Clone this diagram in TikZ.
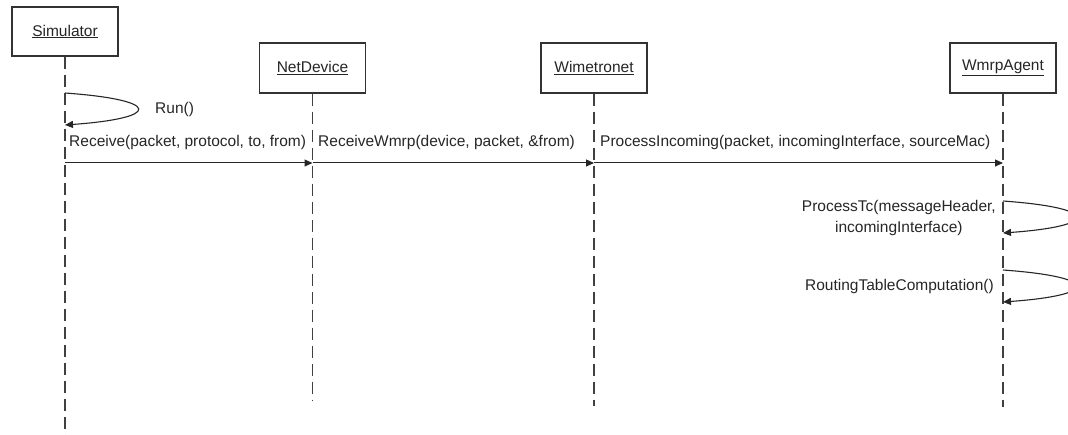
\documentclass[tikz,border=0pt]{standalone}
\usepackage{fontspec}
\setmainfont{Liberation Sans}
\usetikzlibrary{arrows.meta}
\begin{document}
\begin{tikzpicture}[x=1pt,y=-1pt,
  obj/.style={draw=black!80, line width=1.3pt, minimum width=106pt, minimum height=50pt,
              inner sep=0pt, font=\fontsize{15.5}{18}\selectfont, text=black!85, fill=white},
  life/.style={draw=black!75, line width=1.2pt, dash pattern=on 12pt off 6pt},
  msg/.style={draw=black!85, line width=1pt, -{Triangle[length=8pt,width=7pt]}},
  selfmsg/.style={msg, line width=1.1pt},
  lbl/.style={font=\fontsize{15.5}{21}\selectfont, inner sep=0pt, text=black!85},
]
\clip (0,0) rectangle (1068,435);

% objects
\node[obj, minimum height=49pt] (sim) at (65,31.5) {\underline{Simulator}};
\node[obj] (net) at (312.5,68) {\underline{NetDevice}};
\node[obj] (wim) at (594,68) {\underline{Wimetronet}};
\node[obj] (agt) at (1003,68) {\underline{WmrpAgent}};

% lifelines
\coordinate (simEnd) at (sim |- 0,438);
\coordinate (netEnd) at (net |- 0,400);
\coordinate (wimEnd) at (wim |- 0,406);
\coordinate (agtEnd) at (agt |- 0,407);
\draw[life] (sim.south) -- (simEnd);
\draw[life] (net.south) -- (netEnd);
\draw[life] (wim.south) -- (wimEnd);
\draw[life] (agt.south) -- (agtEnd);

% self call on the simulator
\coordinate (runA) at (sim |- 0,93);
\coordinate (runB) at (sim |- 0,125);
\draw[selfmsg] (runA) .. controls +(97,7) and +(97,-7) .. (runB);
\node[lbl, anchor=west] (runL) at (155,109) {Run()};

% forwarded receive calls
\coordinate (pSim) at (sim |- 0,163);
\coordinate (pNet) at (net |- 0,163);
\coordinate (pWim) at (wim |- 0,163);
\coordinate (pAgt) at (agt |- 0,163);
\draw[msg] (pSim) -- (pNet);
\draw[msg] (pNet) -- (pWim);
\draw[msg] (pWim) -- (pAgt);
\node[lbl, anchor=west] (l1) at (69,142) {Receive(packet, protocol, to, from)};
\node[lbl, anchor=west] (l2) at (318,142) {ReceiveWmrp(device, packet, \&from)};
\node[lbl, anchor=west] (l3) at (600,142) {ProcessIncoming(packet, incomingInterface, sourceMac)};

% self calls on the agent
\coordinate (tcA) at (agt |- 0,201);
\coordinate (tcB) at (agt |- 0,233);
\draw[selfmsg] (tcA) .. controls +(97,7) and +(97,-7) .. (tcB);
\node[lbl, anchor=east, align=center] (tcL) at (996,218) {ProcessTc(messageHeader,\\incomingInterface)};

\coordinate (rtA) at (agt |- 0,270);
\coordinate (rtB) at (agt |- 0,302);
\draw[selfmsg] (rtA) .. controls +(97,7) and +(97,-7) .. (rtB);
\node[lbl, anchor=east] (rtL) at (994,286) {RoutingTableComputation()};
\end{tikzpicture}
\end{document}
